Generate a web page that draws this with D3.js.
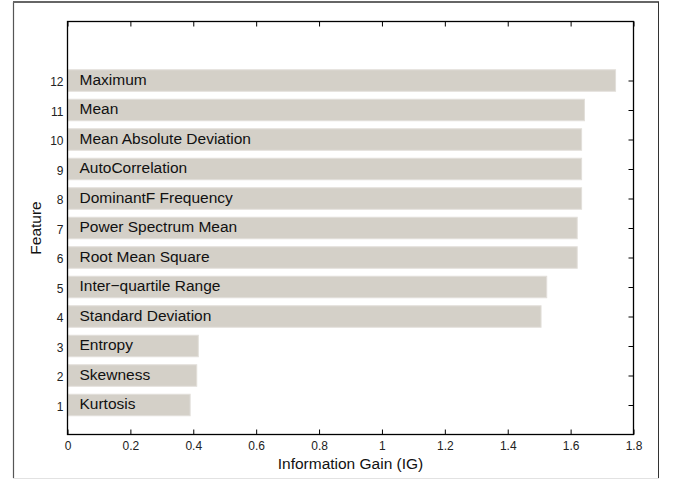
<!DOCTYPE html>
<html>
<head>
<meta charset="utf-8">
<script src="https://cdn.jsdelivr.net/npm/d3@7"></script>
<style>
  html, body { margin: 0; padding: 0; background: #fff; }
  svg { display: block; font-family: "Liberation Sans", Arial, sans-serif; }
</style>
</head>
<body>
<svg id="chart" width="673" height="480"></svg>
<script>
// ---- data ----
const featureIds = [12, 11, 10, 9, 8, 7, 6, 5, 4, 3, 2, 1];
const featureNames = [
  "Maximum", "Mean", "Mean Absolute Deviation", "AutoCorrelation",
  "DominantF Frequency", "Power Spectrum Mean", "Root Mean Square",
  "Inter\u2212quartile Range", "Standard Deviation", "Entropy", "Skewness", "Kurtosis"
];
const igValues = [1.743, 1.644, 1.635, 1.635, 1.635, 1.621, 1.621, 1.524, 1.506, 0.416, 0.411, 0.390];
const xTicks = [0, 0.2, 0.4, 0.6, 0.8, 1, 1.2, 1.4, 1.6, 1.8];
const yTicks = [1, 2, 3, 4, 5, 6, 7, 8, 9, 10, 11, 12];

// ---- layout ----
const svg = d3.select("#chart");
const pL = 67.5, pR = 633.5, pT = 21.5, pB = 434.5;

const x = d3.scaleLinear().domain([0, 1.8]).range([pL, pR]);
const y = d3.scaleLinear().domain([0, 14]).range([pB, pT]);
const barH = 21.5;

// outer frame
svg.append("line").attr("x1", 13.5).attr("x2", 13.5).attr("y1", 2).attr("y2", 478).attr("stroke", "#555").attr("stroke-width", 1.2);
svg.append("line").attr("x1", 13).attr("x2", 659).attr("y1", 2).attr("y2", 2).attr("stroke", "#666").attr("stroke-width", 2);
svg.append("line").attr("x1", 658.5).attr("x2", 658.5).attr("y1", 2).attr("y2", 478).attr("stroke", "#333").attr("stroke-width", 1);
svg.append("line").attr("x1", 13).attr("x2", 659).attr("y1", 478.5).attr("y2", 478.5).attr("stroke", "#e2e2e2").attr("stroke-width", 1);

const data = featureIds.map((id, i) => ({ id, name: featureNames[i], v: igValues[i] }));

// bars
svg.append("g").selectAll("rect").data(data).join("rect")
  .attr("x", x(0) + 0.5)
  .attr("y", d => y(d.id) - barH / 2)
  .attr("width", d => x(d.v) - x(0) - 0.5)
  .attr("height", barH)
  .attr("fill", "#d4d0c8")
  .attr("stroke", "#e2dfda")
  .attr("stroke-width", 1);

// bar labels
svg.append("g").selectAll("text").data(data).join("text")
  .attr("x", x(0) + 12)
  .attr("y", d => y(d.id))
  .attr("dy", "0.28em")
  .attr("font-size", 15.5)
  .attr("fill", "#111")
  .text(d => d.name);

// axes
const tickStyle = g => {
  g.select(".domain").remove();
  g.selectAll(".tick line").attr("stroke", "#000");
  g.selectAll(".tick text").attr("fill", "#222").attr("font-size", 12)
    .attr("font-family", "\"Liberation Sans\", Arial, sans-serif");
};

// bottom
svg.append("g").attr("transform", `translate(0,${pB})`)
  .call(d3.axisBottom(x).tickValues(xTicks).tickSize(-5).tickPadding(7).tickFormat(d3.format("~g")))
  .call(tickStyle);
// top
svg.append("g").attr("transform", `translate(0,${pT})`)
  .call(d3.axisTop(x).tickValues(xTicks).tickSize(-5).tickFormat(""))
  .call(tickStyle);
// left
svg.append("g").attr("transform", `translate(${pL},0)`)
  .call(d3.axisLeft(y).tickValues(yTicks).tickSize(0).tickPadding(4).tickFormat(d3.format("d")))
  .call(tickStyle)
  .call(g => g.selectAll(".tick text").attr("dy", "0.45em"));
// right
svg.append("g").attr("transform", `translate(${pR},0)`)
  .call(d3.axisRight(y).tickValues(yTicks).tickSize(-5).tickFormat(""))
  .call(tickStyle);

// plot box
svg.append("rect")
  .attr("x", pL).attr("y", pT)
  .attr("width", pR - pL).attr("height", pB - pT)
  .attr("fill", "none").attr("stroke", "#000").attr("stroke-width", 1.3);

// axis titles
svg.append("text")
  .attr("x", (pL + pR) / 2).attr("y", 469)
  .attr("text-anchor", "middle").attr("font-size", 15.5).attr("fill", "#111")
  .text("Information Gain (IG)");

svg.append("text")
  .attr("transform", `translate(41,${(pT + pB) / 2}) rotate(-90)`)
  .attr("text-anchor", "middle").attr("font-size", 15.5).attr("fill", "#111")
  .text("Feature");
</script>
</body>
</html>
